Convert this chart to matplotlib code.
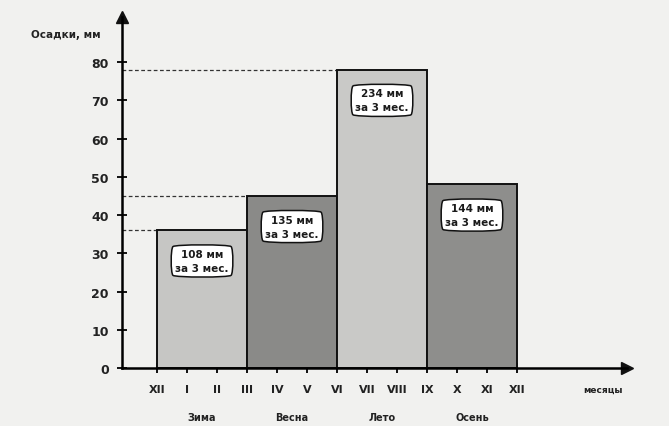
import matplotlib.pyplot as plt
import numpy as np

### Precipitation data (mm) ###
months = ["XII", "I", "II", "III", "IV", "V", "VI", "VII", "VIII", "IX", "X", "XI", "XII"]
seasons = ["Зима", "Весна", "Лето", "Осень"]
totals = [108, 135, 234, 144]  # [mm per 3 months]
monthly = [36, 45, 78, 48]  # [mm per month, bar height]
season_start = [0, 3, 6, 9]  # index of first month
bar_colors = ["#c6c6c4", "#8a8a88", "#c9c9c7", "#8e8e8c"]
yticks = [0, 10, 20, 30, 40, 50, 60, 70, 80]

bg = "#f1f1ef"
fig = plt.figure(figsize=(6.69, 4.27), dpi=100, facecolor=bg)
ax = fig.add_axes([0.1824, 0.1358, 0.7549, 0.822])
ax.set_xlim(-1.167, 15.67)
ax.set_ylim(0, 91.8)
ax.patch.set_alpha(0)

### Bars ###
ax.bar(season_start, monthly, width=3, align="edge", color=bar_colors,
       edgecolor="#111111", linewidth=1.4, zorder=2)

### Dashed guide lines from the axis to the bars ###
for s, h in zip(season_start, monthly):
    if s in (0, 3, 6):
        ax.plot([-1.167, s], [h, h], linestyle=(0, (3, 2)), color="#333333",
                linewidth=0.9, zorder=1)

### Cloud labels ###
for s, h, t in zip(season_start, monthly, totals):
    ax.text(s + 1.5, h - 8, f"{t} мм\nза 3 мес.", ha="center", va="center",
            fontsize=7.5, fontweight="bold", color="#1a1a1a", linespacing=1.5,
            bbox=dict(boxstyle="round4,pad=0.45", fc="white", ec="#111111", lw=1.1),
            zorder=4)

### Axes styling ###
for side in ["top", "right"]:
    ax.spines[side].set_visible(False)
ax.spines["left"].set_linewidth(1.8)
ax.spines["bottom"].set_linewidth(1.8)
ax.spines["left"].set_zorder(5)
ax.spines["bottom"].set_zorder(5)
ax.plot(1, 0, ">", color="#111111", markersize=9, transform=ax.get_yaxis_transform(), clip_on=False)
ax.plot(-1.167, 1, "^", color="#111111", markersize=9, transform=ax.get_xaxis_transform(), clip_on=False)

ax.set_xticks(range(len(months)))
ax.set_xticklabels(months, fontsize=8, fontweight="bold", color="#222222")
ax.set_yticks(yticks)
ax.set_yticklabels([str(v) for v in yticks], fontsize=9, fontweight="bold", color="#222222")
ax.tick_params(axis="both", direction="inout", length=7, width=1.4, color="#111111")
ax.tick_params(axis="x", pad=8)
ax.tick_params(axis="y", pad=6)

for i, name in enumerate(seasons):
    ax.text(season_start[i] + 1.5, -12.8, name, ha="center", va="center",
            fontsize=7, fontweight="bold", color="#222222", clip_on=False)
ax.text(14.87, -5.6, "месяцы", ha="center", va="center", fontsize=6.5,
        fontweight="bold", color="#222222", clip_on=False)

fig.text(66 / 669, 1 - 35 / 427, "Осадки, мм", ha="center", va="center",
         fontsize=7.5, fontweight="bold", color="#222222")

fig.savefig("out.png", dpi=100, facecolor=bg)
